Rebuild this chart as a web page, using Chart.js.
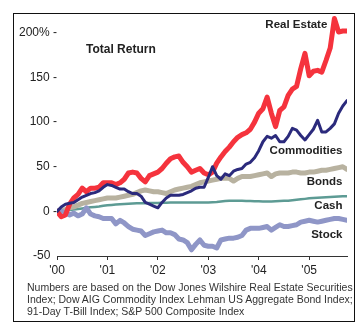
<!DOCTYPE html>
<html>
<head>
<meta charset="utf-8">
<script src="https://cdn.jsdelivr.net/npm/chart.js@4.4.1/dist/chart.umd.min.js"></script>
<style>
  html, body { margin: 0; padding: 0; background: #fff; }
  #frame { position: absolute; left: 13px; top: 13px; width: 342px; height: 309px; border: 1px solid #111; box-sizing: border-box; }
  #wrap { position: absolute; left: 0; top: 0; width: 358px; height: 282px; }
  #note { position: absolute; left: 27px; top: 281px; width: 330px; font-family: "Liberation Sans", Arial, sans-serif; font-size: 10.5px; line-height: 12px; color: #333; white-space: nowrap; }
</style>
</head>
<body>
<div id="frame"></div>
<div id="wrap"><canvas id="c" width="358" height="282"></canvas></div>
<div id="note">Numbers are based on the Dow Jones Wilshire Real Estate Securities<br>Index; Dow AIG Commodity Index Lehman US Aggregate Bond Index;<br>91-Day T-Bill Index; S&amp;P 500 Composite Index</div>
<script>
// Monthly observations, Jan 2000 .. Oct 2005 (70 months)
const startYear = 2000;
const yearLabels = ["'00", "'01", "'02", "'03", "'04", "'05"];
const yTickValues = [-50, 0, 50, 100, 150, 200];
const yTickLabels = ['-50  ', '0 -', '50 -', '100 -', '150 -', '200% -'];
const seriesNames = ['Commodities', 'Real Estate', 'Stock', 'Bonds', 'Cash'];

const realEstate = [0,-6,-4,8,15,19,26,22,26,26, 27,32,32,32,30,32,36,43,44,43, 37,33,40,42,44,48,54,59,61,62, 55,50,44,46,48,43,41,44,54,61, 67,72,78,83,86,88,92,100,110,115, 128,110,95,113,117,130,137,140,160,177, 152,157,158,156,169,183,216,201,202,202];
const commodities = [0,5,8,9,10,13,16,18,20,21, 23,27,30,29,27,25,25,22,20,20, 17,10,8,6,4,10,15,18,18,18, 19,21,23,26,27,27,38,50,40,36, 42,40,45,47,48,53,55,60,68,78, 84,82,85,78,78,84,93,91,85,80, 86,92,102,89,89,93,98,110,118,124];
const bonds = [0,1,2,4,5,7,9,10,11,12, 13,14,15,15,15,16,17,18,19,21, 23,24,23,22,22,21,20,22,24,25, 26,27,28,30,32,33,34,35,36,37, 37,37,34,37,39,39,39,40,41,42, 43,39,42,43,43,43,44,44,43,43, 44,44,45,46,46,47,48,49,50,47];
const cash = [0,0.5,1,1.5,2,2.7,3.3,4,4.5,5, 5.5,6.2,6.8,7.2,7.6,8,8.3,8.6,8.8,9, 9.1,9.2,9.3,9.4,9.5,9.6,9.7,9.8,9.9,10, 10,10,10,10,10,10,10,10.2,10.5,11, 11.5,12,12,12,11.8,11.6,11.5,11.3,11.2,11.1, 11,11,11.2,11.5,11.8,12,12.5,13,13.5,14, 14.6,15,15.3,15.6,15.9,16.2,16.5,16.7,16.9,17];
const stock = [0,0,-2,-4,-2,-5,-3,4,-3,-5, -6,-8,-8,-8,-14,-10,-13,-17,-20,-21, -22,-27,-25,-23,-22,-21,-24,-24,-26,-31, -32,-35,-43,-37,-32,-38,-39,-39,-41,-32, -31,-30,-30,-29,-27,-21,-19,-19,-19,-18, -17,-21,-18,-15,-17,-17,-16,-15,-12,-11, -10,-11,-12,-11,-10,-9,-8,-8,-9,-10];

function toPoints(arr) { return arr.map((v, i) => ({ x: startYear + i / 12, y: v })); }

const FONT = '"Liberation Sans", Arial, sans-serif';

const labelPlugin = {
  id: 'seriesLabels',
  afterDatasetsDraw(chart) {
    const { ctx, scales: { x, y } } = chart;
    const items = [
      { t: 'Real Estate', x: 2005.36, y: 209, a: 'right', s: 11.5 },
      { t: 'Commodities', x: 2005.66, y: 67.5, a: 'right', s: 11.5 },
      { t: 'Bonds', x: 2005.66, y: 33, a: 'right', s: 11.5 },
      { t: 'Cash', x: 2005.66, y: 6, a: 'right', s: 11.5 },
      { t: 'Stock', x: 2005.66, y: -26.5, a: 'right', s: 11.5 },
      { t: 'Total Return', x: 2000.575, y: 181, a: 'left', s: 12 }
    ];
    ctx.save();
    ctx.fillStyle = '#222';
    ctx.textBaseline = 'middle';
    items.forEach(it => {
      ctx.font = 'bold ' + it.s + 'px ' + FONT;
      ctx.textAlign = it.a;
      ctx.fillText(it.t, x.getPixelForValue(it.x), y.getPixelForValue(it.y));
    });
    ctx.restore();
  }
};

const styles = {
  'Commodities': { c: '#2b2a7c', w: 3 },
  'Real Estate': { c: '#f5333d', w: 5 },
  'Stock': { c: '#8f96c7', w: 5 },
  'Bonds': { c: '#b8b2a0', w: 5 },
  'Cash': { c: '#5d9b94', w: 2.5 }
};
const seriesData = { 'Commodities': commodities, 'Real Estate': realEstate, 'Stock': stock, 'Bonds': bonds, 'Cash': cash };

new Chart(document.getElementById('c'), {
  type: 'line',
  data: {
    datasets: seriesNames.map((n, i) => ({
      label: n,
      data: toPoints(seriesData[n]),
      borderColor: styles[n].c,
      borderWidth: styles[n].w,
      pointRadius: 0,
      tension: 0,
      fill: false,
      borderJoinStyle: 'round',
      borderCapStyle: 'round',
      order: i
    }))
  },
  options: {
    responsive: false,
    animation: false,
    layout: { padding: { left: 0, right: 11, top: 15, bottom: 0 } },
    plugins: { legend: { display: false }, tooltip: { enabled: false } },
    scales: {
      x: {
        type: 'linear',
        min: 2000,
        max: 2005.75,
        afterFit(s) { s.height = 26; },
        afterBuildTicks(s) { s.ticks = yearLabels.map((_, i) => ({ value: startYear + i })); },
        ticks: {
          includeBounds: false,
          autoSkip: false,
          maxRotation: 0,
          padding: 3,
          color: '#222',
          font: { family: FONT, size: 12 },
          callback: (v) => yearLabels[Math.round(v - startYear)]
        },
        grid: { drawOnChartArea: false, drawTicks: true, tickLength: 4, color: '#333', lineWidth: 1 },
        border: { display: true, color: '#333', width: 1 }
      },
      y: {
        type: 'linear',
        min: -50,
        max: 220,
        afterFit(s) { s.width = 57; },
        afterBuildTicks(s) { s.ticks = yTickValues.map(v => ({ value: v })); },
        ticks: {
          padding: 0,
          color: '#222',
          font: { family: FONT, size: 12 },
          callback: (v) => yTickLabels[yTickValues.indexOf(v)]
        },
        grid: { display: false, drawTicks: false },
        border: { display: false }
      }
    }
  },
  plugins: [labelPlugin]
});
</script>
</body>
</html>
